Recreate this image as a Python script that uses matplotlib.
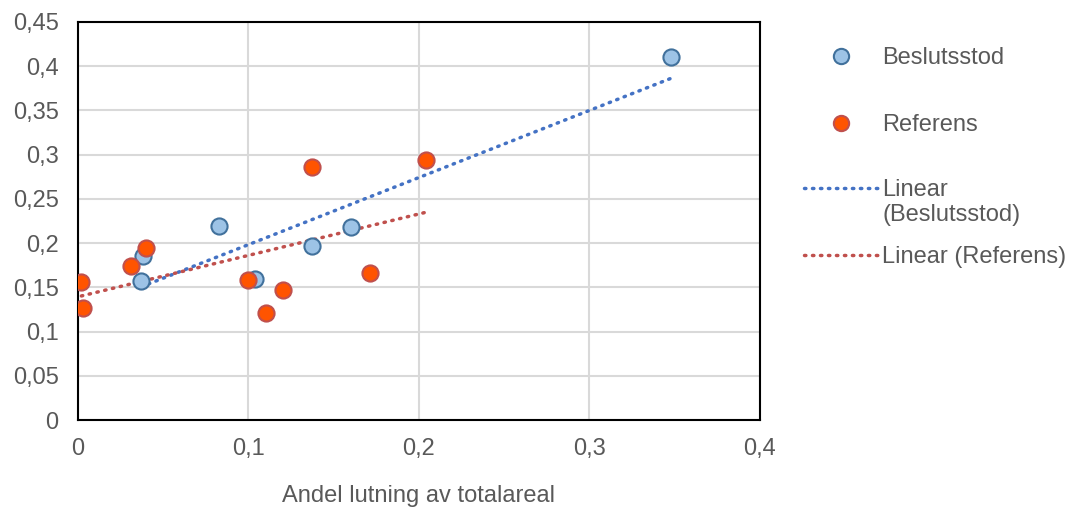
import matplotlib.pyplot as plt
import numpy as np
from matplotlib.lines import Line2D
from matplotlib.ticker import FuncFormatter

plt.rcParams['font.family'] = ['Liberation Sans', 'DejaVu Sans']

# Beslutsstod series
besl_x = [0.348, 0.038, 0.037, 0.083, 0.104, 0.137, 0.160]
besl_y = [0.410, 0.185, 0.157, 0.219, 0.159, 0.197, 0.218]

# Referens series
ref_x = [0.002, 0.003, 0.031, 0.040, 0.100, 0.110, 0.120, 0.137, 0.171, 0.204]
ref_y = [0.156, 0.127, 0.174, 0.194, 0.158, 0.121, 0.147, 0.286, 0.166, 0.294]

labels = ['Beslutsstod', 'Referens', 'Linear\n(Beslutsstod)', 'Linear (Referens)']
x_title = 'Andel lutning av totalareal'

text_col = '#595959'
blue_face, blue_edge, blue_line = '#9DC3E6', '#41719C', '#4472C4'
red_face, red_edge, red_line = '#FF5400', '#C0504D', '#C0504D'
dots = (0, (0.4, 1.9))


def comma_fmt(v, pos):
    s = f'{v:.2f}'.rstrip('0').rstrip('.')
    return s.replace('.', ',')


fig = plt.figure(figsize=(10.71, 5.08), dpi=100)
ax = fig.add_axes([0.0728, 0.173, 0.6368, 0.784])

# trendlines fitted over each series' x range
for xs, ys, col in [(besl_x, besl_y, blue_line), (ref_x, ref_y, red_line)]:
    k, m = np.polyfit(xs, ys, 1)
    xx = np.array([min(xs), max(xs)])
    ax.plot(xx, k * xx + m, color=col, lw=2.5, linestyle=dots,
            dash_capstyle='round', zorder=3)

ax.scatter(besl_x, besl_y, s=135, c=blue_face, edgecolors=blue_edge, linewidths=1.5, zorder=4)
ax.scatter(ref_x, ref_y, s=135, c=red_face, edgecolors=red_edge, linewidths=1.5, zorder=4)

ax.set_xlim(0, 0.4)
ax.set_ylim(0, 0.45)
ax.set_xticks(np.arange(0, 0.41, 0.1))
ax.set_yticks(np.arange(0, 0.451, 0.05))
ax.xaxis.set_major_formatter(FuncFormatter(comma_fmt))
ax.yaxis.set_major_formatter(FuncFormatter(comma_fmt))
ax.tick_params(length=0, labelsize=17, labelcolor=text_col)
ax.tick_params(axis='x', pad=13)
ax.tick_params(axis='y', pad=14)
ax.grid(True, color='#D9D9D9', lw=1.5)
ax.set_axisbelow(True)
for sp in ax.spines.values():
    sp.set_color('black')
    sp.set_linewidth(1.5)
ax.set_xlabel(x_title, fontsize=17, color=text_col, labelpad=18)

# legend drawn by hand to mimic spacing of the original
handles = [
    Line2D([0], [0], marker='o', ls='none', ms=11, mfc=blue_face, mec=blue_edge, mew=1.5),
    Line2D([0], [0], marker='o', ls='none', ms=11, mfc=red_face, mec=red_edge, mew=1.5),
    Line2D([0], [0], color=blue_line, lw=2.5, ls=dots, dash_capstyle='round'),
    Line2D([0], [0], color=red_line, lw=2.5, ls=dots, dash_capstyle='round'),
]
ys_px = [58, 125, 190, 257]
for h, lab, ypx in zip(handles, labels, ys_px):
    yf = 1 - ypx / 508
    fig.legend([h], [lab.split('\n')[0]], loc='center left',
               bbox_to_anchor=(0.751, yf), frameon=False, fontsize=17,
               handlelength=3.1, handletextpad=0.2, borderpad=0, borderaxespad=0,
               labelcolor=text_col)
    if '\n' in lab:
        fig.text(882 / 1071, 1 - 215 / 508, lab.split('\n')[1], fontsize=17, color=text_col,
                 va='center')

fig.savefig('out.png', dpi=100)
